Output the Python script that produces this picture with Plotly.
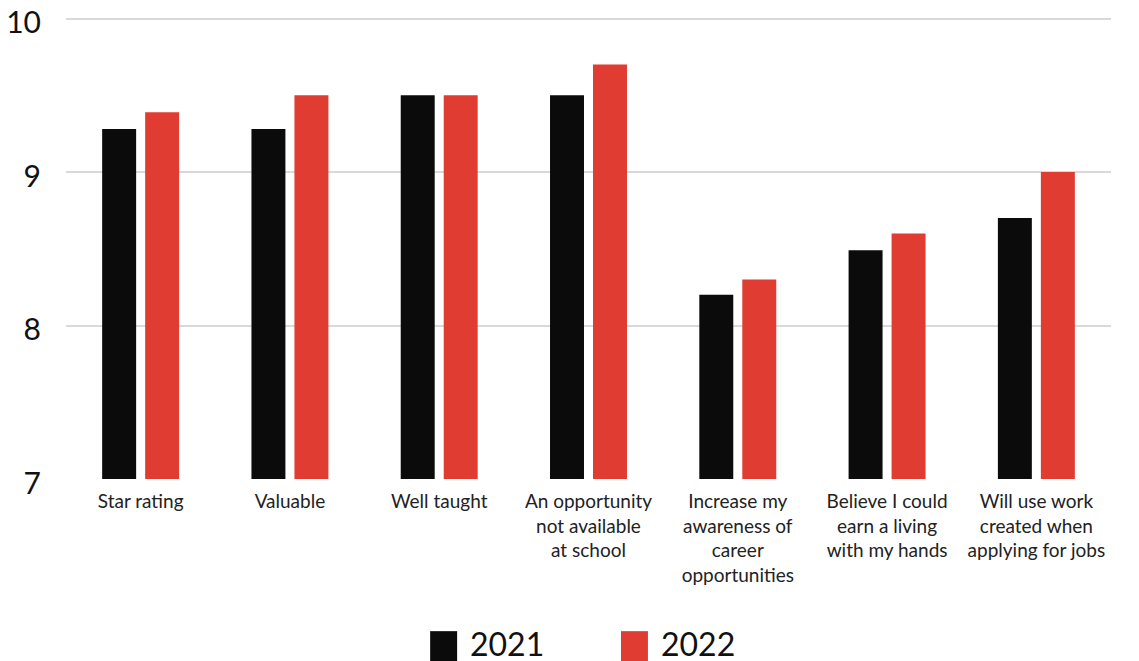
import plotly.graph_objects as go

categories = [
    "Star rating",
    "Valuable",
    "Well taught",
    "An opportunity<br>not available<br>at school",
    "Increase my<br>awareness of<br>career<br>opportunities",
    "Believe I could<br>earn a living<br>with my hands",
    "Will use work<br>created when<br>applying for jobs",
]
values_2021 = [9.28, 9.28, 9.5, 9.5, 8.2, 8.49, 8.7]
values_2022 = [9.39, 9.5, 9.5, 9.7, 8.3, 8.6, 9.0]
series_names = ["2021", "2022"]
y_ticks = [7, 8, 9, 10]

BLACK = "#0b0b0b"
RED = "#e03c31"
FONT = "Lato, 'Noto Sans', sans-serif"

fig = go.Figure()
fig.add_trace(go.Bar(x=categories, y=values_2021, name=series_names[0],
                     marker=dict(color=BLACK, line=dict(width=0)), showlegend=False))
fig.add_trace(go.Bar(x=categories, y=values_2022, name=series_names[1],
                     marker=dict(color=RED, line=dict(width=0)), showlegend=False))

# page body adds an 8px offset; compensate
OFF = 8
W, H = 1139, 661
L = 65.5 - OFF
R = W - (1111.5 - OFF)
Y_TOP = 10.01
px_per_unit = (479 - 19) / 3.0
T = 19 - OFF - (Y_TOP - 10) * px_per_unit
B = H - (479 - OFF)
pw = W - L - R
ph = H - T - B

def px_to_paper_x(px):
    return (px - OFF - L) / pw

def px_to_paper_y(py):
    return (H - B - (py - OFF)) / ph

# custom legend (large square swatches)
legend_items = [(series_names[0], BLACK, 430), (series_names[1], RED, 621)]
for name, col, x0 in legend_items:
    fig.add_shape(type="rect", xref="paper", yref="paper",
                  x0=px_to_paper_x(x0), x1=px_to_paper_x(x0 + 27),
                  y0=px_to_paper_y(661), y1=px_to_paper_y(631),
                  fillcolor=col, line=dict(width=0))
    fig.add_annotation(text=name, xref="paper", yref="paper",
                       x=px_to_paper_x(x0 + 38), y=px_to_paper_y(643),
                       xanchor="left", yanchor="middle", showarrow=False,
                       font=dict(family=FONT, size=32, color="#111111"))

fig.update_layout(
    width=W, height=H,
    margin=dict(l=L, r=R, t=T, b=B, pad=0, autoexpand=False),
    paper_bgcolor="white", plot_bgcolor="white",
    barmode="group", bargap=0.424, bargroupgap=0.21,
    font=dict(family=FONT, color="#222222"),
    showlegend=False,
)
fig.update_yaxes(range=[7, Y_TOP], tickvals=y_ticks, showgrid=True,
                 gridcolor="#d9d9d9", gridwidth=2, zeroline=False,
                 showline=False, ticks="", ticklabelstandoff=24,
                 ticklabelshift=4,
                 ticklabeloverflow="allow", automargin=False,
                 tickfont=dict(family=FONT, size=30, color="#111111"))
fig.update_xaxes(showline=False, ticks="", ticklabelstandoff=9, tickangle=0,
                 automargin=False,
                 tickfont=dict(family=FONT, size=19, color="#222222"))

fig.write_html("out.html")
